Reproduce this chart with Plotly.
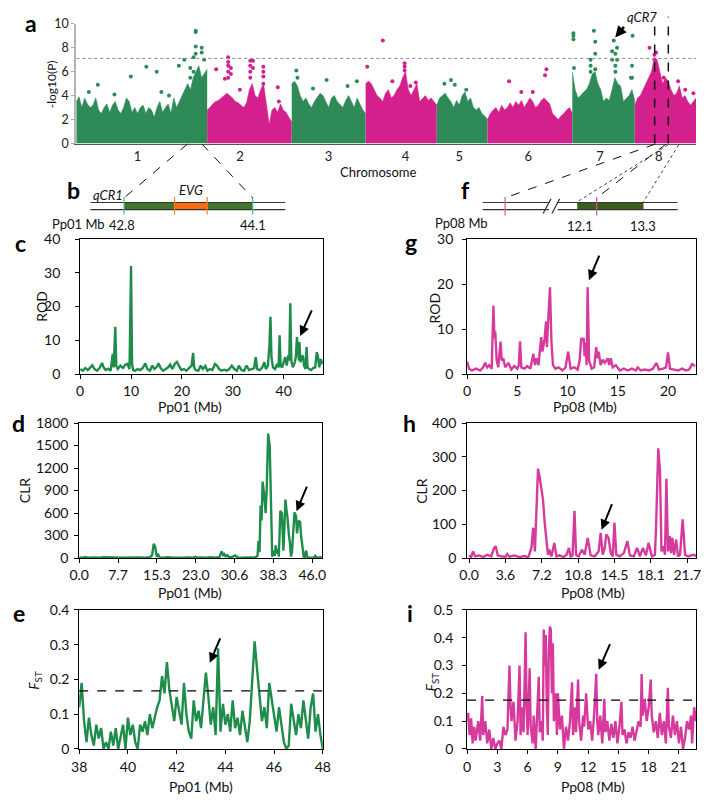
import plotly.graph_objects as go
import numpy as np

W, H = 709, 802
def px(x): return x / W
def py(y): return 1 - y / H

GREEN = "#2e8b57"
MAG = "#d4208c"
LGREEN = "#1e8c4b"
LMAG = "#d63a9c"
FONT = "Lato"

# ---------------- Manhattan (panel a) ----------------
chr_names = ["1", "2", "3", "4", "5", "6", "7", "8"]
chr_lengths = [48.0, 31.0, 27.1, 26.1, 18.6, 31.1, 22.9, 22.5]
chr_label_pos = [22.5, 60.0, 92.5, 120.7, 140.4, 165.7, 192.1, 213.6]

chr1_env = [3.5, 3.9, 3.0, 3.8, 3.3, 3.0, 3.2, 3.8, 2.8, 2.5, 3.0, 3.3, 2.6, 3.2, 3.5, 2.8, 2.5, 3.0, 3.8, 3.5,
            2.6, 3.0, 2.5, 3.0, 3.2, 2.5, 3.0, 2.8, 2.2, 3.0, 3.5, 2.6, 3.0, 3.3, 2.5, 3.8, 3.0, 3.5, 4.0, 4.5,
            5.0, 4.5, 5.5, 6.0, 6.5, 5.5, 5.8, 6.2]
chr2_env = [2.8, 3.0, 3.3, 3.5, 3.6, 3.8, 4.0, 4.2, 4.0, 3.8, 3.5, 3.4, 3.2, 3.0, 3.4, 4.5, 5.0, 4.0, 3.8, 4.5,
            5.0, 3.2, 1.6, 2.8, 3.0, 2.6, 3.3, 2.8, 2.6, 2.2, 1.8]
chr3_env = [5.0, 5.2, 4.8, 4.0, 3.5, 3.8, 3.3, 3.0, 3.5, 3.9, 4.2, 4.0, 3.5, 3.0, 3.8, 4.0, 3.5, 3.2, 3.0, 3.6,
            4.0, 3.5, 3.0, 3.8, 3.3, 2.8, 2.5]
chr4_env = [5.0, 5.2, 5.0, 4.5, 4.0, 3.8, 3.5, 4.2, 4.5, 3.8, 4.0, 4.5, 4.8, 5.5, 6.0, 4.5, 4.0, 4.5, 5.0, 3.5,
            3.8, 4.0, 3.6, 3.8, 3.5, 3.2]
chr5_env = [3.2, 3.8, 4.0, 4.2, 3.8, 3.5, 3.0, 3.6, 3.2, 4.0, 4.3, 3.5, 3.8, 3.0, 2.8, 3.0, 2.5, 2.3, 2.0]
chr6_env = [2.0, 2.5, 2.8, 3.0, 2.6, 3.2, 2.8, 3.0, 3.4, 3.0, 3.5, 3.2, 3.6, 3.0, 3.4, 3.8, 3.5, 3.0, 3.2, 3.6,
            3.8, 3.5, 3.3, 2.5, 2.2, 2.0, 2.3, 2.5, 2.8, 3.0, 2.5]
chr7_env = [6.0, 4.5, 3.8, 4.0, 4.3, 4.5, 5.0, 5.8, 6.0, 5.0, 4.5, 3.5, 3.8, 3.6, 4.5, 5.5, 5.0, 4.8, 3.5, 3.8,
            4.0, 4.5, 3.6]
chr8_env = [3.2, 3.8, 4.0, 4.5, 5.0, 5.5, 6.0, 7.2, 7.0, 6.0, 5.0, 5.5, 5.2, 4.5, 4.0, 4.2, 4.8, 3.8, 4.0, 3.5,
            3.2, 3.5, 3.8]

out_chr = [1, 1, 1, 1, 1, 1, 1, 1, 1, 1, 1, 1, 1, 1, 1, 1, 1, 1, 1, 1, 1,
           2, 2, 2, 2, 2, 2, 2, 2, 2, 2, 2, 2, 2, 2, 2, 2, 2, 2, 2, 2, 2, 2,
           3, 3, 3, 3, 3, 3,
           4, 4, 4, 4, 4, 4, 4, 4,
           5, 5, 5, 5,
           6, 6, 6, 6, 6,
           7, 7, 7, 7, 7, 7, 7, 7, 7, 7, 7, 7, 7, 7, 7, 7, 7, 7, 7, 7, 7, 7, 7,
           8, 8, 8, 8, 8, 8, 8, 8]
out_mb = [4.6, 7.9, 14.0, 20.0, 25.7, 29.5, 31.2, 34.0, 37.6, 39.6, 41.8, 41.8, 43.0, 43.0, 43.8, 43.8, 43.8, 43.8, 46.0, 46.0, 46.9,
          3.3, 6.5, 7.7, 7.7, 7.7, 7.7, 7.7, 8.7, 8.7, 12.0, 15.8, 15.8, 15.8, 15.8, 16.8, 16.8, 20.6, 20.6, 20.6, 20.6, 25.9, 26.3,
          1.7, 2.1, 7.8, 12.8, 20.5, 23.9,
          0.6, 6.3, 9.8, 16.4, 14.3, 14.3, 14.3, 18.4,
          2.8, 5.2, 6.6, 10.8,
          7.9, 12.4, 21.1, 21.6, 16.6,
          0.4, 0.4, 0.4, 0.6, 6.7, 6.7, 6.7, 7.9, 8.4, 8.4, 8.4, 14.6, 14.6, 15.2, 15.8, 15.8, 15.8, 16.4, 16.4, 22.1, 21.9, 21.9, 21.5,
          5.4, 7.2, 7.2, 7.8, 10.6, 15.9, 18.5, 21.5]
out_val = [4.3, 4.9, 4.1, 5.6, 6.4, 6.0, 4.3, 4.0, 6.5, 7.0, 5.5, 6.3, 6.0, 7.2, 7.5, 9.3, 9.4, 8.1, 8.0, 7.6, 7.0,
           6.2, 5.4, 7.2, 6.8, 6.5, 6.0, 5.5, 6.3, 5.8, 4.5, 6.9, 6.5, 6.0, 5.5, 6.9, 6.3, 6.4, 6.0, 5.6, 5.0, 4.7, 3.5,
           6.1, 5.5, 4.6, 5.3, 4.8, 5.2,
           6.4, 8.6, 5.2, 4.8, 6.7, 6.4, 6.1, 5.1,
           5.0, 5.3, 4.9, 4.5,
           5.2, 4.3, 5.7, 6.2, 4.3,
           9.2, 9.0, 8.7, 6.3, 7.0, 6.5, 6.0, 9.4, 8.5, 7.5, 6.2, 7.7, 7.0, 8.6, 7.5, 6.5, 6.0, 8.0, 7.0, 9.0, 6.5, 5.5, 5.5,
           8.0, 7.4, 7.0, 7.6, 5.5, 5.2, 4.5, 4.2]
threshold = 7.1
qcr7_marks_mb = [7.3, 12.3]   # local Mb on chr 8 for the two dashed marks

# ---------------- Line panels ----------------
c_x = [0, 0.5, 1, 1.5, 2, 2.4, 2.8, 3.3, 3.8, 4.3, 4.6, 5.0, 5.5, 6.0, 6.4, 6.6, 6.9, 7.1, 7.4, 7.9, 8.4, 8.9, 9.3,
       9.7, 10.0, 10.2, 10.4, 10.8, 11.3, 11.8, 12.3, 12.8, 13.2, 13.7, 14.2, 14.6, 15.0, 15.4, 15.8, 16.3, 16.8,
       17.3, 17.7, 18.1, 18.6, 19.0, 19.4, 19.9, 20.4, 20.9, 21.4, 21.9, 22.2, 22.4, 22.7, 23.2, 23.7, 24.1, 24.6,
       25.0, 25.5, 26.0, 26.5, 26.9, 27.3, 27.8, 28.3, 28.8, 29.3, 29.8, 30.3, 30.8, 31.2, 31.7, 32.2, 32.7, 33.2,
       33.7, 34.2, 34.5, 34.8, 35.3, 35.8, 36.2, 36.5, 36.9, 37.2, 37.4, 37.6, 37.9, 38.3, 38.7, 39.0, 39.2, 39.4,
       39.7, 40.0, 40.3, 40.6, 40.9, 41.1, 41.3, 41.5, 41.8, 42.1, 42.4, 42.6, 42.8, 43.0, 43.1, 43.3, 43.5, 43.8,
       44.0, 44.3, 44.5, 44.7, 45.0, 45.4, 45.8, 46.2, 46.5, 46.7, 47.0, 47.3, 47.5, 47.7]
c_y = [1.5, 1.0, 1.8, 1.2, 2.0, 2.6, 1.5, 1.0, 1.8, 3.3, 2.0, 1.2, 1.6, 1.0, 6.0, 2.0, 14.0, 2.5, 1.5, 2.5, 1.8, 2.8,
       3.0, 1.5, 32.0, 3.0, 1.2, 1.0, 1.5, 1.2, 1.8, 3.2, 1.5, 1.0, 2.5, 1.5, 2.0, 3.2, 1.8, 1.0, 1.5, 2.0, 2.8, 1.5,
       3.0, 3.6, 2.5, 1.2, 1.5, 1.0, 1.8, 2.5, 6.3, 2.0, 1.2, 1.0, 2.5, 1.5, 2.4, 1.0, 1.5, 1.2, 3.0, 2.5, 1.5, 1.0,
       1.3, 1.0, 1.5, 2.5, 1.5, 1.0, 2.5, 1.2, 1.0, 2.5, 1.2, 1.5, 1.8, 5.0, 1.5, 1.2, 2.0, 3.5, 1.5, 2.5, 8.5, 17.0,
       5.0, 2.0, 1.5, 3.0, 2.0, 11.5, 2.5, 2.0, 3.5, 5.0, 2.5, 5.5, 4.0, 21.0, 4.0, 2.0, 3.0, 5.0, 11.0, 8.0, 4.0,
       9.5, 3.5, 5.0, 5.5, 2.5, 1.5, 8.0, 2.0, 1.5, 1.2, 1.8, 2.0, 6.5, 5.5, 2.0, 4.5, 3.0, 4.0]

g_x = [0, 0.2, 0.5, 0.9, 1.3, 1.6, 1.8, 2.0, 2.2, 2.45, 2.62, 2.72, 2.8, 2.95, 3.1, 3.33, 3.45, 3.6, 3.8, 4.1, 4.4,
       4.7, 5.0, 5.15, 5.27, 5.4, 5.7, 6.0, 6.3, 6.6, 6.75, 6.9, 7.1, 7.25, 7.38, 7.5, 7.7, 7.86, 7.95, 8.05, 8.25,
       8.4, 8.55, 8.8, 9.1, 9.5, 9.8, 10.06, 10.3, 10.7, 11.0, 11.2, 11.36, 11.5, 11.6, 11.7, 11.8, 11.9, 12.0, 12.15,
       12.4, 12.65, 12.85, 13.0, 13.1, 13.3, 13.5, 13.7, 13.9, 14.0, 14.15, 14.3, 14.5, 14.8, 15.2, 15.6, 16.0, 16.4,
       16.8, 17.0, 17.3, 17.7, 18.1, 18.5, 18.85, 19.1, 19.5, 19.8, 20.0, 20.2, 20.6, 21.0, 21.4, 21.8, 22.1, 22.4, 22.7]
g_y = [2.8, 1.2, 0.8, 1.2, 0.8, 1.5, 2.5, 1.5, 2.0, 1.2, 15.2, 8.0, 9.5, 3.0, 1.5, 7.2, 3.0, 3.5, 1.5, 2.5, 1.0,
       1.8, 1.2, 2.0, 7.3, 1.5, 1.2, 1.8, 1.2, 4.5, 2.0, 3.5, 2.0, 5.0, 8.2, 5.0, 7.5, 11.7, 6.0, 11.0, 19.3,
       7.0, 2.0, 1.2, 1.5, 0.8, 1.5, 5.0, 1.2, 1.5, 1.0, 3.0, 8.0, 7.5, 8.0, 4.0, 7.0, 2.0, 19.3, 3.0,
       1.2, 1.5, 6.0, 3.5, 5.0, 2.0, 3.2, 2.5, 3.3, 3.5, 2.0, 3.5, 1.5, 2.0, 0.8, 1.2, 0.8, 1.2,
       0.8, 1.5, 0.8, 1.0, 0.8, 1.2, 2.5, 1.0, 1.2, 1.5, 4.8, 1.2, 1.0, 0.8, 1.2, 0.8, 1.0, 2.2, 1.8]

d_x = [0, 0.5, 1.2, 2.0, 3.0, 4.0, 5.0, 6.0, 7.0, 8.0, 9.0, 10.0, 11.0, 12.0, 13.0, 14.0, 14.4, 14.7, 15.0, 15.3,
       15.6, 15.9, 16.5, 17.5, 18.5, 19.5, 20.5, 21.5, 22.5, 22.9, 23.3, 24.0, 25.0, 26.0, 27.0, 27.7, 28.1, 28.4,
       28.6, 28.9, 29.2, 29.6, 30.2, 30.8, 31.3, 32.0, 33.0, 34.0, 34.8, 35.2, 35.4, 35.6, 35.8, 36.0, 36.2, 36.5,
       36.8, 37.0, 37.3, 37.6, 37.9, 38.1, 38.4, 38.6, 38.8, 39.0, 39.2, 39.4, 39.7, 40.0, 40.1, 40.3, 40.5, 40.7,
       40.9, 41.1, 41.4, 41.6, 41.8, 42.0, 42.2, 42.5, 42.8, 43.0, 43.3, 43.6, 43.8, 44.0, 44.3, 44.5, 44.8, 45.0,
       45.2, 45.6, 46.0, 46.3, 46.6, 46.9, 47.3, 47.6, 47.9]
d_y = [10, 5, 12, 5, 10, 4, 12, 6, 10, 5, 8, 12, 6, 10, 5, 12, 40, 190, 150, 20,
       45, 10, 6, 12, 5, 10, 6, 8, 5, 18, 6, 10, 5, 12, 6, 15, 90, 40,
       55, 25, 40, 10, 15, 35, 8, 5, 10, 6, 12, 30, 230, 80, 700, 500, 1020, 850,
       600, 900, 1660, 1500, 400, 20, 100, 30, 170, 60, 120, 20, 630, 600, 450, 100, 400, 780,
       650, 550, 300, 200, 20, 80, 300, 610, 560, 330, 500, 480, 300, 150, 20, 10, 100, 20,
       10, 5, 10, 5, 30, 8, 5, 15, 10]

h_x = [0, 0.2, 0.39, 0.6, 1.0, 1.4, 1.8, 2.2, 2.49, 2.65, 2.85, 3.2, 3.6, 3.79, 4.0, 4.5, 5.0, 5.5, 5.9, 6.2, 6.38,
       6.55, 6.7, 6.86, 7.02, 7.18, 7.35, 7.54, 7.73, 7.85, 7.99, 8.2, 8.48, 8.7, 9.0, 9.4, 9.7, 9.94, 10.1, 10.3,
       10.49, 10.65, 10.9, 11.23, 11.5, 11.81, 12.1, 12.5, 12.9, 13.1, 13.3, 13.5, 13.66, 13.88, 14.1, 14.3, 14.47,
       14.65, 15.0, 15.4, 15.76, 16.0, 16.4, 16.73, 17.0, 17.31, 17.6, 17.86, 18.2, 18.5, 18.61, 18.83, 19.0, 19.15,
       19.32, 19.5, 19.64, 19.8, 19.97, 20.1, 20.23, 20.4, 20.61, 20.8, 21.0, 21.26, 21.5, 21.8, 22.1, 22.4, 22.6]
h_y = [8, 3, 20, 5, 8, 3, 10, 5, 30, 35, 8, 5, 3, 12, 4, 8, 3, 6, 3, 30, 90,
       20, 150, 265, 240, 200, 175, 100, 40, 10, 25, 5, 45, 5, 8, 3, 10, 30, 5, 8,
       140, 10, 5, 25, 10, 60, 8, 5, 20, 75, 10, 30, 70, 60, 15, 5, 105,
       10, 5, 15, 50, 8, 5, 30, 5, 30, 8, 45, 5, 10, 90, 325, 260, 20,
       35, 10, 235, 20, 65, 15, 60, 10, 55, 5, 10, 115, 10, 5, 8, 10, 5]

e_x = [38.0, 38.1, 38.2, 38.3, 38.4, 38.5, 38.6, 38.7, 38.8, 38.9, 39.0, 39.1, 39.2, 39.3, 39.4, 39.5, 39.6, 39.7,
       39.8, 39.9, 40.0, 40.1, 40.2, 40.3, 40.4, 40.5, 40.6, 40.7, 40.8, 40.9, 41.0, 41.1, 41.2, 41.3, 41.4, 41.5,
       41.6, 41.7, 41.8, 41.9, 42.0, 42.1, 42.2, 42.3, 42.4, 42.5, 42.6, 42.7, 42.8, 42.9, 43.0, 43.1, 43.2, 43.3,
       43.4, 43.5, 43.6, 43.7, 43.8, 43.9, 44.0, 44.1, 44.2, 44.3, 44.4, 44.5, 44.6, 44.7, 44.8, 44.9, 45.0, 45.1,
       45.2, 45.3, 45.4, 45.5, 45.6, 45.7, 45.8, 45.9, 46.0, 46.1, 46.2, 46.3, 46.4, 46.5, 46.6, 46.7, 46.8, 46.9,
       47.0, 47.1, 47.2, 47.3, 47.4, 47.5, 47.6, 47.7, 47.8, 47.9, 48.0]
e_y = [0.12, 0.19, 0.08, 0.02, 0.09, 0.04, 0.01, 0.07, 0.03, 0.06, 0.00, 0.02, 0.00, 0.05, 0.01, 0.06, 0.00, 0.04,
       0.07, 0.00, 0.09, 0.04, 0.07, 0.02, 0.00, 0.07, 0.05, 0.08, 0.04, 0.10, 0.06, 0.09, 0.12, 0.14, 0.21, 0.16,
       0.25, 0.17, 0.12, 0.08, 0.15, 0.11, 0.07, 0.19, 0.10, 0.05, 0.03, 0.14, 0.08, 0.11, 0.06, 0.14, 0.22, 0.15,
       0.07, 0.12, 0.04, 0.29, 0.05, 0.13, 0.07, 0.10, 0.05, 0.14, 0.06, 0.09, 0.04, 0.11, 0.06, 0.02, 0.08, 0.20,
       0.31, 0.23, 0.15, 0.08, 0.12, 0.06, 0.19, 0.14, 0.10, 0.05, 0.12, 0.07, 0.02, 0.00, 0.01, 0.13, 0.08, 0.04,
       0.10, 0.06, 0.14, 0.08, 0.03, 0.12, 0.16, 0.05, 0.10, 0.04, 0.00]
e_threshold = 0.167

i_x = [0.0, 0.1, 0.25, 0.4, 0.55, 0.7, 0.85, 1.0, 1.1, 1.3, 1.5, 1.6, 1.8, 2.0, 2.2, 2.4, 2.6, 2.8, 3.0, 3.2, 3.4,
       3.6, 3.8, 4.0, 4.2, 4.3, 4.4, 4.6, 4.8, 5.0, 5.2, 5.3, 5.5, 5.6, 5.8, 5.9, 6.0, 6.2, 6.3, 6.5, 6.6, 6.8, 7.0,
       7.1, 7.2, 7.4, 7.5, 7.6, 7.7, 7.8, 7.9, 8.0, 8.1, 8.2, 8.3, 8.4, 8.5, 8.6, 8.8, 8.9, 9.0, 9.2, 9.4, 9.6, 9.8,
       10.0, 10.2, 10.4, 10.5, 10.7, 10.8, 11.0, 11.1, 11.3, 11.5, 11.6, 11.8, 12.0, 12.2, 12.4, 12.6, 12.8, 12.9,
       13.0, 13.2, 13.4, 13.6, 13.7, 13.9, 14.1, 14.3, 14.5, 14.7, 14.9, 15.1, 15.3, 15.4, 15.6, 15.8, 16.0, 16.2,
       16.4, 16.6, 16.8, 17.0, 17.2, 17.3, 17.4, 17.6, 17.8, 18.0, 18.2, 18.3, 18.5, 18.7, 18.9, 19.1, 19.3, 19.5,
       19.7, 19.9, 20.0, 20.2, 20.4, 20.6, 20.8, 21.0, 21.2, 21.4, 21.6, 21.8, 22.0, 22.2, 22.3, 22.5, 22.7]
i_y = [0.10, 0.13, 0.05, 0.11, 0.02, 0.08, 0.03, 0.07, 0.10, 0.03, 0.19, 0.05, 0.10, 0.02, 0.07, 0.00, 0.04, 0.00,
       0.02, 0.03, 0.00, 0.08, 0.05, 0.07, 0.30, 0.16, 0.10, 0.17, 0.03, 0.10, 0.30, 0.05, 0.15, 0.06, 0.42, 0.15,
       0.05, 0.29, 0.08, 0.02, 0.12, 0.00, 0.15, 0.26, 0.06, 0.10, 0.03, 0.43, 0.30, 0.41, 0.15, 0.05, 0.35, 0.44,
       0.43, 0.20, 0.38, 0.10, 0.20, 0.05, 0.20, 0.07, 0.12, 0.00, 0.08, 0.03, 0.10, 0.24, 0.05, 0.15, 0.06, 0.25,
       0.10, 0.03, 0.12, 0.08, 0.20, 0.07, 0.10, 0.03, 0.13, 0.27, 0.10, 0.05, 0.12, 0.02, 0.18, 0.06, 0.10, 0.03,
       0.09, 0.04, 0.10, 0.02, 0.08, 0.17, 0.05, 0.07, 0.02, 0.06, 0.04, 0.08, 0.03, 0.07, 0.10, 0.08, 0.27, 0.12,
       0.18, 0.10, 0.15, 0.25, 0.12, 0.06, 0.10, 0.04, 0.13, 0.05, 0.10, 0.02, 0.22, 0.08, 0.04, 0.12, 0.05, 0.10,
       0.02, 0.08, 0.00, 0.04, 0.10, 0.07, 0.12, 0.02, 0.15, 0.10]
i_threshold = 0.176

# schematic b (Pp01 Mb)
b_region = [42.8, 44.1]
b_evg = [43.31, 43.64]
b_extent = [42.46, 44.43]

fig = go.Figure()

# ---- Manhattan traces
envs = [chr1_env, chr2_env, chr3_env, chr4_env, chr5_env, chr6_env, chr7_env, chr8_env]
offsets = np.concatenate([[0], np.cumsum(chr_lengths)[:-1]])
total = float(np.sum(chr_lengths))
for k, env in enumerate(envs):
    col = GREEN if k % 2 == 0 else MAG
    xs = offsets[k] + np.linspace(0, chr_lengths[k], len(env))
    fig.add_trace(go.Scatter(x=xs, y=env, mode="lines", fill="tozeroy", fillcolor=col,
                             line=dict(color=col, width=0.6), xaxis="x", yaxis="y",
                             showlegend=False, hoverinfo="skip"))
for k in range(8):
    col = GREEN if k % 2 == 0 else MAG
    xs = [offsets[k] + m for c, m in zip(out_chr, out_mb) if c == k + 1]
    ys = [v for c, v in zip(out_chr, out_val) if c == k + 1]
    fig.add_trace(go.Scatter(x=xs, y=ys, mode="markers", marker=dict(color=col, size=4),
                             xaxis="x", yaxis="y", showlegend=False, hoverinfo="skip"))

# ---- line panels
panels = [
    (2, c_x, c_y, LGREEN),
    (3, g_x, g_y, LMAG),
    (4, d_x, d_y, LGREEN),
    (5, h_x, h_y, LMAG),
    (6, e_x, e_y, LGREEN),
    (7, i_x, i_y, LMAG),
]
for idx, xs, ys, col in panels:
    fig.add_trace(go.Scatter(x=xs, y=ys, mode="lines", line=dict(color=col, width=2.4),
                             xaxis=f"x{idx}", yaxis=f"y{idx}", showlegend=False, hoverinfo="skip"))

tickfont = dict(family=FONT, size=14, color="#111")

def add_axes(idx, xdom, ydom, xr, yr, xtv, xtt, ytv, ytt, xso, yso):
    xa = dict(domain=[px(xdom[0]), px(xdom[1])], range=xr, anchor=f"y{idx}", tickvals=xtv, ticktext=xtt,
              ticks="outside", ticklen=4, tickcolor="#000", showline=True, linecolor="#000", linewidth=1,
              mirror=True, showgrid=False, zeroline=False, tickfont=tickfont, ticklabelstandoff=xso)
    ya = dict(domain=[py(ydom[0]), py(ydom[1])], range=yr, anchor=f"x{idx}", tickvals=ytv, ticktext=ytt,
              ticks="outside", ticklen=4, tickcolor="#000", showline=True, linecolor="#000", linewidth=1,
              mirror=True, showgrid=False, zeroline=False, tickfont=tickfont, ticklabelstandoff=yso)
    fig.update_layout(**{f"xaxis{idx}": xa, f"yaxis{idx}": ya})

add_axes(2, (72, 321), (373, 235), [0, 47.7], [0, 40], [0, 10, 20, 30, 40], ["0", "10", "20", "30", "40"],
         [0, 10, 20, 30, 40], ["0", "10", "20", "30", "40"], 0, 12)
add_axes(3, (469, 704), (373, 235), [0, 22.8], [0, 30], [0, 5, 10, 15, 20], ["0", "5", "10", "15", "20"],
         [0, 10, 20, 30], ["0", "10", "20", "30"], 0, 6)
add_axes(4, (71, 320), (561, 423), [0, 47.9], [0, 1800], [0, 7.66, 15.33, 23.0, 30.66, 38.33, 46.0],
         ["0.0", "7.7", "15.3", "23.0", "30.6", "38.3", "46.0"],
         [0, 300, 600, 900, 1200, 1500, 1800], ["0", "300", "600", "900", "1200", "1500", "1800"], 0, 3)
add_axes(5, (469, 704), (561, 423), [-0.2, 22.6], [0, 400], [0, 3.62, 7.24, 10.86, 14.48, 18.1, 21.72],
         ["0.0", "3.6", "7.2", "10.8", "14.5", "18.1", "21.7"],
         [0, 100, 200, 300, 400], ["0", "100", "200", "300", "400"], 0, 3)
add_axes(6, (71, 321), (756, 614), [38, 48], [0, 0.4], [38, 40, 42, 44, 46, 48], ["38", "40", "42", "44", "46", "48"],
         [0, 0.1, 0.2, 0.3, 0.4], ["0", "0.1", "0.2", "0.3", "0.4"], 1, 2)
add_axes(7, (469, 704), (756, 614), [0, 22.7], [0, 0.5], [0, 3, 6, 9, 12, 15, 18, 21],
         ["0", "3", "6", "9", "12", "15", "18", "21"],
         [0, 0.1, 0.2, 0.3, 0.4, 0.5], ["0", "0.1", "0.2", "0.3", "0.4", "0.5"], 1, 6)

# Manhattan axes
fig.update_layout(
    xaxis=dict(domain=[px(68), px(704)], range=[0, total], anchor="y",
               tickvals=chr_label_pos, ticktext=chr_names, ticks="", showline=True, linecolor="#555",
               linewidth=1, showgrid=False, zeroline=False, ticklabelstandoff=1,
               tickfont=dict(family=FONT, size=13, color="#222")),
    yaxis=dict(domain=[py(137.5), py(15)], range=[0, 10], anchor="x", tickvals=[0, 2, 4, 6, 8, 10],
               ticks="outside", ticklen=3, tickcolor="#aaa", showline=True, linecolor="#b5b5b5", linewidth=2,
               showgrid=False, zeroline=False, tickfont=dict(family=FONT, size=12.5, color="#222")),
)

shapes = []
shapes.append(dict(type="line", xref="x", yref="y", x0=0, x1=total, y0=threshold, y1=threshold,
                   line=dict(color="#888", width=1, dash="dot")))
for m in qcr7_marks_mb:
    xm = offsets[7] + m
    shapes.append(dict(type="line", xref="x", yref="paper", x0=xm, x1=xm, y0=py(137.5), y1=py(8),
                       line=dict(color="#111", width=1.5, dash="dash")))
shapes.append(dict(type="line", xref="x6 domain", yref="y6", x0=0, x1=1, y0=e_threshold, y1=e_threshold,
                   line=dict(color="#000", width=1.3, dash="dash")))
shapes.append(dict(type="line", xref="x7 domain", yref="y7", x0=0, x1=1, y0=i_threshold, y1=i_threshold,
                   line=dict(color="#000", width=1.3, dash="dash")))

def pline(x0, y0, x1, y1, color="#000", width=1.0, dash="solid"):
    shapes.append(dict(type="line", xref="paper", yref="paper", x0=px(x0), y0=py(y0), x1=px(x1), y1=py(y1),
                       line=dict(color=color, width=width, dash=dash)))

def prect(x0, y0, x1, y1, color):
    shapes.append(dict(type="rect", xref="paper", yref="paper", x0=px(x0), y0=py(y0), x1=px(x1), y1=py(y1),
                       fillcolor=color, line=dict(width=0)))

# ---- schematic b
def bx(mb):
    return 117 + (mb - b_region[0]) * (249 - 117) / (b_region[1] - b_region[0])

prect(bx(b_region[0]), 198, bx(b_region[1]), 205, "#44752a")
prect(bx(b_evg[0]), 198, bx(b_evg[1]), 205, "#ff6a10")
pline(bx(b_extent[0]), 197.7, bx(b_extent[1]), 197.7, "#333", 1.2)
pline(bx(b_extent[0]), 205, bx(b_extent[1]), 205, "#333", 1.2)
for mb in b_region:
    pline(bx(mb), 192, bx(mb), 210, "#3cc08c", 1.2)
for mb in b_evg:
    pline(bx(mb), 192, bx(mb), 210, "#ff7f27", 1.2)
pline(182, 138, bx(b_region[0]), 193, "#111", 1, "dash")
pline(197, 138, bx(b_region[1]), 193, "#111", 1, "dash")

# ---- schematic f
prect(582, 198, 650, 205, "#3b5e1e")
for yy in (197.7, 205):
    pline(485, yy, 553, yy, "#333", 1.2)
    pline(562, yy, 685, yy, "#333", 1.2)
pline(547, 209, 555, 194, "#333", 1.2)
pline(556, 209, 564, 194, "#333", 1.2)
pline(508, 192, 508, 211, "#cc55aa", 1.2)
pline(602, 192, 602, 211, "#cc55aa", 1.2)
pline(662, 138, 508, 193, "#111", 1, "dash")
pline(673, 138, 602, 193, "#111", 1, "dash")
pline(675, 139, 582, 197, "#111", 0.8, "dot")
pline(686, 139, 650, 197, "#111", 0.8, "dot")

fig.update_layout(shapes=shapes)

ann = []
def text(x, y, s, size=14, angle=0, color="#111", family=FONT, xanchor="center"):
    ann.append(dict(x=px(x), y=py(y), xref="paper", yref="paper", text=s, showarrow=False,
                    font=dict(size=size, family=family, color=color), textangle=angle,
                    xanchor=xanchor, yanchor="middle"))

def arrow(hx, hy, tx, ty, width=2.0, size=1.0):
    ann.append(dict(x=px(hx), y=py(hy), xref="paper", yref="paper", text="", showarrow=True,
                    ax=tx - hx, ay=ty - hy, arrowhead=2, arrowsize=size, arrowwidth=width,
                    arrowcolor="#000", standoff=0))

for s, x, y in [("a", 22, 14), ("b", 65, 185), ("c", 11, 239), ("d", 9, 423), ("e", 9, 617),
                ("f", 467, 185), ("g", 411, 238), ("h", 410, 423), ("i", 410, 617)]:
    text(x, y, f"<b>{s}</b>", size=23, color="#000")

text(42, 77, "-log10(P)", size=12, angle=-90)
text(378, 167, "Chromosome", size=13)
text(648, 8, "<i>qCR7</i>", size=13)
arrow(621, 29, 631, 17, width=2.5, size=0.9)

text(101, 190, "<i>qCR1</i>", size=13)
text(186, 185, "<i>EVG</i>", size=13)
text(70, 220, "Pp01 Mb", size=13)
text(115, 221, "42.8", size=13)
text(249, 221, "44.1", size=13)
text(463, 219, "Pp08 Mb", size=13)
text(585, 222, "12.1", size=13)
text(650, 222, "13.3", size=13)

text(32, 304, "ROD", angle=-90)
text(436, 305, "ROD", angle=-90)
text(15, 492, "CLR", angle=-90)
text(422, 492, "CLR", angle=-90)
text(25, 686, "<i>F</i><sub>ST</sub>", angle=-90)
text(432, 688, "<i>F</i><sub>ST</sub>", angle=-90)
text(185, 406, "Pp01 (Mb)")
text(590, 406, "Pp08 (Mb)")
text(185, 596, "Pp01 (Mb)")
text(598, 596, "Pp08 (Mb)")
text(196, 794, "Pp01 (Mb)")
text(598, 794, "Pp08 (Mb)")

arrow(297.7, 334, 310, 307)
arrow(594, 277, 605, 251)
arrow(294, 513, 305, 487)
arrow(607, 532, 618, 505)
arrow(205, 668, 216, 642)
arrow(604, 675, 616, 648)

fig.update_layout(annotations=ann, width=W, height=H, autosize=False,
                  margin=dict(l=0, r=0, t=0, b=0), paper_bgcolor="white", plot_bgcolor="white",
                  font=dict(family=FONT, size=14, color="#111"), showlegend=False)

fig.write_html("out.html", config={"displayModeBar": False, "staticPlot": True},
               post_script="document.body.style.margin='0';document.body.style.overflow='hidden';")
